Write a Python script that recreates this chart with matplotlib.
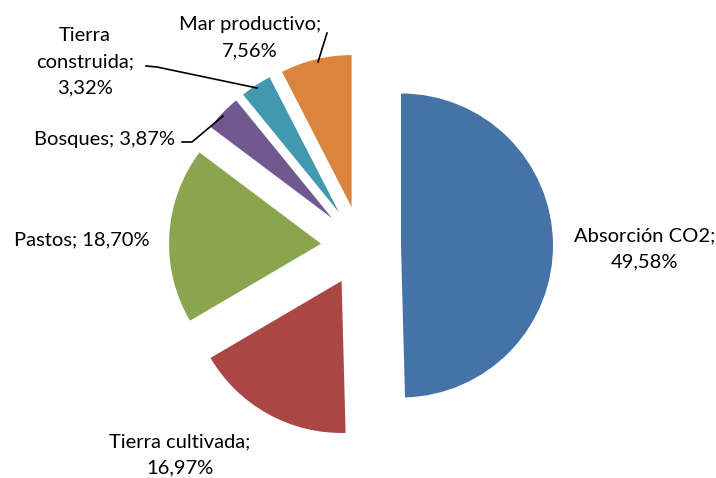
import matplotlib
matplotlib.use("Agg")
import matplotlib.pyplot as plt

# Datos del gráfico
categorias = ["Absorción CO2", "Tierra cultivada", "Pastos", "Bosques",
              "Tierra construida", "Mar productivo"]
porcentajes = [49.58, 16.97, 18.70, 3.87, 3.32, 7.56]
colores = ["#4572A7", "#AA4643", "#89A54E", "#71588F", "#4198AF", "#DB843D"]
etiquetas = ["Absorción CO2;\n49,58%", "Tierra cultivada;\n16,97%",
             "Pastos; 18,70%", "Bosques; 3,87%",
             "Tierra\nconstruida;\n3,32%", "Mar productivo;\n7,56%"]

W, H = 716, 478
fig = plt.figure(figsize=(W / 100, H / 100), dpi=100)
ax = fig.add_axes([0, 0, 1, 1])

cx, cy, r = 361, H - 246, 152
# en matplotlib el desplazamiento va en unidades de datos
ax.pie(porcentajes, colors=colores, startangle=90, counterclock=False,
       explode=[40] * len(porcentajes), center=(cx, cy), radius=r,
       wedgeprops=dict(linewidth=0), frame=True)
ax.set_xlim(0, W)
ax.set_ylim(0, H)
ax.set_aspect("equal")
ax.axis("off")

# posiciones de las etiquetas (en píxeles, y desde arriba)
pos = [(645, 249), (180, 455), (82, 240), (105, 139), (85, 62), (250, 38)]
for txt, (x, y) in zip(etiquetas, pos):
    ax.text(x, H - y, txt, ha="center", va="center", fontsize=14.5,
            family="Lato", linespacing=1.65, color="black")

# líneas guía
lineas = [
    [(146, 66), (157, 67), (257, 88)],
    [(182, 142), (192, 142), (223, 116)],
    [(327, 33), (318, 62)],
]
for pts in lineas:
    xs, ys = zip(*pts)
    ax.plot(xs, [H - y for y in ys], color="black", lw=1.2)

fig.savefig("out.png", dpi=100)
